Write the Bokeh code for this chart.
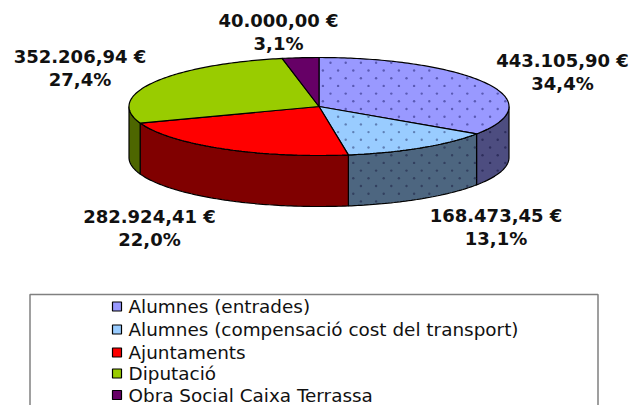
import math
from bokeh.plotting import figure
from bokeh.models import Range1d
from bokeh.core.properties import value
from bokeh.embed import file_html
from bokeh.resources import INLINE

categories = ["Alumnes (entrades)", "Alumnes (compensació cost del transport)", "Ajuntaments", "Diputació", "Obra Social Caixa Terrassa"]
values = [443105.90, 168473.45, 282924.41, 352206.94, 40000.00]
value_labels = ["443.105,90 €", "168.473,45 €", "282.924,41 €", "352.206,94 €", "40.000,00 €"]
pct_labels = ["34,4%", "13,1%", "22,0%", "27,4%", "3,1%"]
top_colors = ["#9999ff", "#99ccff", "#ff0000", "#99cc00", "#660066"]
side_colors = ["#4d4d80", "#4d6680", "#800000", "#4d6600", "#330033"]
top_dot_colors = ["#5a5ab4", "#5f7fb4", None, None, None]
side_dot_colors = ["#2e2e5c", "#33405f", None, None, None]
label_x = [562, 495.5, 149, 79.5, 278]
label_y = [60, 215, 216, 56, 20]

W, H = 632, 405
p = figure(width=W, height=H, output_backend="svg", toolbar_location=None,
           x_range=Range1d(0, W), y_range=Range1d(H, 0))
p.axis.visible = False
p.grid.visible = False
p.outline_line_color = None
p.min_border = p.min_border_left = p.min_border_right = p.min_border_top = p.min_border_bottom = 0

cx, cy, rx, ry, depth = 318.5, 106, 190, 49, 51
total = sum(values)
def pt(t, dy=0):
    return cx + rx * math.sin(t), cy - ry * math.cos(t) + dy
def arc(a, b, dy=0):
    n = max(2, int(abs(b - a) * 60))
    return [pt(a + (b - a) * i / n, dy) for i in range(n + 1)]
def inside(x, y, poly):
    c = False
    for (x1, y1), (x2, y2) in zip(poly, poly[1:] + poly[:1]):
        if (y1 > y) != (y2 > y) and x < x1 + (y - y1) * (x2 - x1) / (y2 - y1):
            c = not c
    return c
def pattern(poly, color):
    # staggered fine dot texture of the pattern fill
    pts = []
    for r in range(-10, 30):
        y = 62.3 + r * 7.7
        for c in range(-40, 40):
            x = 330 + c * 15.2 + (7.6 if r % 2 else 0)
            if all(inside(x + dx, y + dy, poly) for dx, dy in ((-1.5, 0), (1.5, 0), (0, -1.5), (0, 1.5))):
                pts.append((x, y))
    if pts:
        p.scatter([q[0] for q in pts], [q[1] for q in pts], size=2.4, marker="circle",
                  fill_color=color, line_color=None)

angles = [0]
for v in values:
    angles.append(angles[-1] + 2 * math.pi * v / total)

for i, v in enumerate(values):
    a = max(angles[i], math.pi / 2)
    b = min(angles[i + 1], 3 * math.pi / 2)
    if b <= a:
        continue
    poly = arc(a, b) + arc(b, a, depth)
    p.patch([q[0] for q in poly], [q[1] for q in poly], fill_color=side_colors[i],
            line_color="black", line_width=1.2)
    if side_dot_colors[i]:
        pattern(poly, side_dot_colors[i])
for i, v in enumerate(values):
    poly = [(cx, cy)] + arc(angles[i], angles[i + 1])
    p.patch([q[0] for q in poly], [q[1] for q in poly], fill_color=top_colors[i],
            line_color="black", line_width=1.2)
    if top_dot_colors[i]:
        pattern(poly, top_dot_colors[i])

font = value("DejaVu Sans")
p.text(label_x, label_y, text=value_labels, text_font=font, text_font_size="18px",
       text_font_style="bold", text_align="center", text_baseline="middle", text_color="#111111")
p.text(label_x, [y + 23 for y in label_y], text=pct_labels, text_font=font, text_font_size="18px",
       text_font_style="bold", text_align="center", text_baseline="middle", text_color="#111111")

box_l, box_r, box_t, box_b = 29.5, 597.5, 294, 420
p.line([box_l, box_l, box_r, box_r], [box_b, box_t, box_t, box_b], line_color="#808080", line_width=1.5)
leg_y = [306, 329, 352, 373, 394.5]
p.rect([116.5] * 5, leg_y, width=9, height=9, fill_color=top_colors, line_color="black", line_width=1.2)
p.text([128] * 5, leg_y, text=categories, text_font=font, text_font_size="18.4px",
       text_align="left", text_baseline="middle", text_color="#111111")

open("out.html", "w").write(file_html(p, INLINE))
